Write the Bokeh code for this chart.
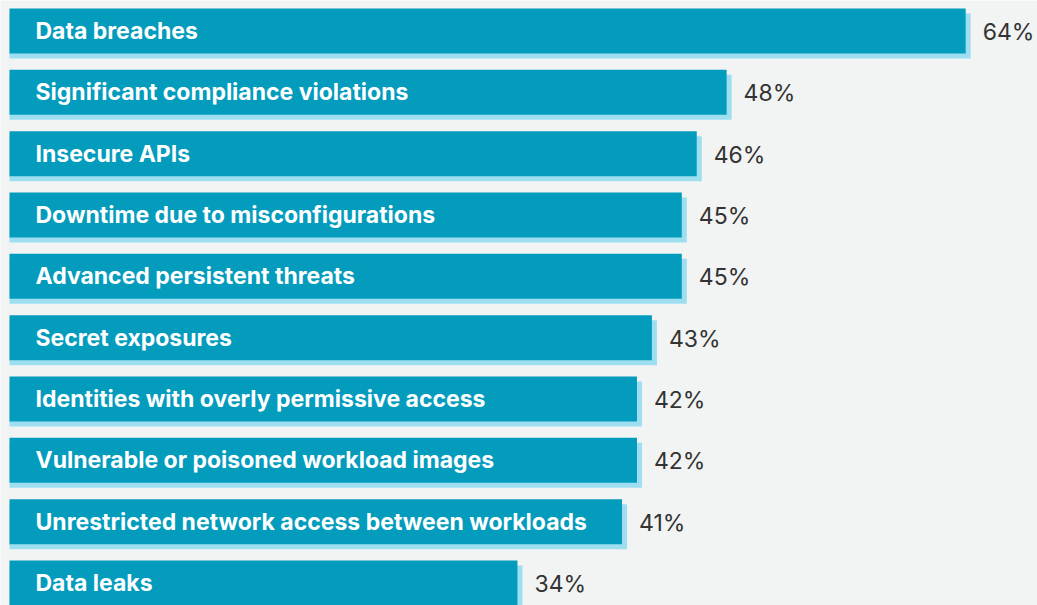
from bokeh.plotting import figure
from bokeh.models import Range1d, ColumnDataSource
from bokeh.core.properties import value
from bokeh.embed import file_html
from bokeh.resources import INLINE

categories = [
    "Data breaches",
    "Significant compliance violations",
    "Insecure APIs",
    "Downtime due to misconfigurations",
    "Advanced persistent threats",
    "Secret exposures",
    "Identities with overly permissive access",
    "Vulnerable or poisoned workload images",
    "Unrestricted network access between workloads",
    "Data leaks",
]
values = [64, 48, 46, 45, 45, 43, 42, 42, 41, 34]
value_labels = [f"{v}%" for v in values]

BG = "#f2f3f3"
BAR = "#039cbd"
SHADOW = "#9ddff0"

W, H = 1037, 605
left_px = 9
px_per_unit_x = 14.94
x_start = -left_px / px_per_unit_x
x_end = (W - left_px) / px_per_unit_x
pitch = 61.33
first_center = 30.5
y_top = -first_center / pitch
y_bot = 9 + (H - first_center - 9 * pitch) / pitch

idx = list(range(len(categories)))
src = ColumnDataSource(dict(
    y=idx,
    ys=[i + 5 / pitch for i in idx],
    v=values,
    vs=[v + 5 / px_per_unit_x for v in values],
    cat=categories,
    lab=value_labels,
    zero=[0] * len(idx),
))

p = figure(width=W, height=H, output_backend="svg", toolbar_location=None,
           x_range=Range1d(x_start, x_end), y_range=Range1d(y_bot, y_top),
           min_border=0, min_border_left=0, min_border_right=0,
           min_border_top=0, min_border_bottom=0)
p.background_fill_color = BG
p.border_fill_color = BG
p.outline_line_color = None
p.axis.visible = False
p.grid.visible = False

bh = 45 / pitch
p.hbar(y="ys", left="zero", right="vs", height=bh, source=src,
       fill_color=SHADOW, line_color=None)
p.hbar(y="y", left="zero", right="v", height=bh, source=src,
       fill_color=BAR, line_color=None)

p.text(x="zero", y="y", text="cat", source=src, x_offset=26, y_offset=0,
       text_color="white", text_font=value("Inter"), text_font_style="bold",
       text_font_size="23px", text_baseline="middle", text_align="left")
p.text(x="v", y="y", text="lab", source=src, x_offset=17, y_offset=1,
       text_color="#333333", text_font=value("Inter"),
       text_font_size="23px", text_baseline="middle", text_align="left")

html = file_html(p, INLINE)
html = html.replace("<body>", f'<body style="background:{BG}">', 1)
open("out.html", "w").write(html)
